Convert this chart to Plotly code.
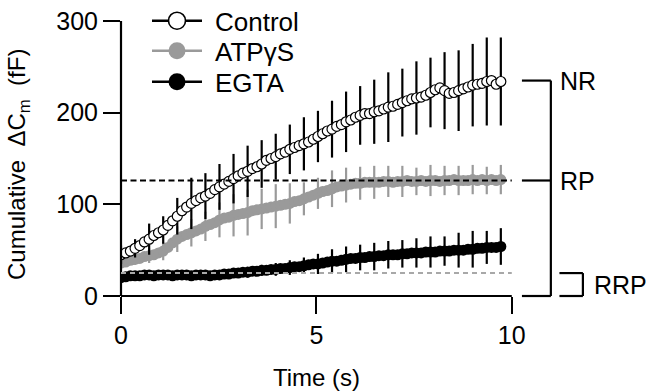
import numpy as np
import plotly.graph_objects as go

# ---------------- data ----------------
# time grid of mean points (s), sampled every 0.12 s
time_s = [round(0.12 * i, 2) for i in range(82)]

control_mean = [45, 47, 49, 52, 55, 59, 62, 66, 69, 72,
                77, 82, 87, 93, 97, 101, 104, 107, 109, 112,
                116, 119, 122, 125, 128, 131, 134, 136, 139, 141,
                144, 148, 150, 152, 155, 157, 160, 162, 164, 166,
                168, 171, 174, 177, 180, 182, 185, 187, 190, 192,
                195, 197, 199, 199, 201, 202, 204, 206, 207, 209,
                211, 213, 215, 216, 217, 219, 222, 225, 227, 224,
                221, 222, 224, 226, 228, 230, 231, 232, 234, 235,
                231, 234]

atp_mean = [36, 37, 39, 40, 41, 43, 44, 45, 47, 49,
            53, 58, 62, 65, 67, 69, 71, 73, 76, 78,
            80, 83, 85, 86, 88, 89, 90, 91, 93, 94,
            95, 96, 97, 98, 99, 100, 101, 103, 104, 106,
            108, 110, 112, 114, 115, 117, 119, 120, 121, 122,
            123, 123, 124, 124, 124, 124, 125, 125, 124, 125,
            125, 126, 125, 125, 126, 125, 126, 126, 125, 126,
            126, 127, 126, 126, 126, 127, 126, 127, 126, 127,
            126, 127]

egta_mean = [20, 21, 22, 22, 22, 23, 23, 22, 23, 23,
             23, 22, 23, 23, 23, 22, 23, 23, 23, 22,
             23, 23, 24, 24, 25, 25, 26, 26, 27, 27,
             28, 28, 29, 29, 30, 30, 31, 32, 32, 33,
             34, 35, 35, 36, 37, 38, 38, 39, 40, 41,
             41, 42, 42, 43, 43, 44, 44, 45, 45, 45,
             46, 46, 47, 47, 47, 48, 48, 48, 49, 49,
             49, 50, 50, 50, 51, 51, 52, 52, 53, 53,
             53, 54]

# error bars shown every 3rd point (every 0.36 s)
err_idx = list(range(0, 82, 3))
control_sd = [10, 10, 17, 15, 20, 28, 25, 25, 27, 28, 26, 25, 27, 29,
              28, 31, 33, 32, 35, 38, 37, 40, 38, 42, 44, 45, 48, 48]
atp_sd = [5, 6, 8, 10, 14, 15, 16, 19, 23, 25, 22, 24, 22, 18,
          17, 20, 19, 18, 18, 17, 17, 15, 17, 16, 16, 16, 15, 16]
egta_sd = [4, 4, 4, 4, 5, 5, 5, 5, 5, 6, 6, 7, 8, 9,
           11, 13, 14, 14, 15, 15, 15, 16, 17, 16, 19, 20, 18, 20]

series_names = ["Control", "ATP\u03b3S", "EGTA"]
rp_level = 126      # fF, RP level (dashed black)
rrp_level = 25      # fF, RRP level (dashed grey)
nr_level = 235      # fF, NR level

x_ticks = [0, 5, 10]
y_ticks = [0, 100, 200, 300]

# ---------------- styling ----------------
FONT = "Liberation Sans, Arial, sans-serif"
BLACK = "#000000"
GREY = "#9a9a9a"
FS = 25
Y_TOP = 322.9   # axis range top (300 sits ~21 px below the top edge)

W, H = 649, 392
ML, MR, MT, MB = 121, 20, 0, 96
PW, PH = W - ML - MR, H - MT - MB


def px_x(px):
    return (px - ML) / PW


def px_y(py):
    return (H - MB - py) / PH


fig = go.Figure()


def add_series(name, mean, sd, color, fill, size, lw_outline):
    t_err = [time_s[i] for i in err_idx]
    m_err = [mean[i] for i in err_idx]
    outline = BLACK if fill == "white" else color
    fig.add_trace(go.Scatter(
        x=t_err, y=m_err, mode="markers",
        marker=dict(size=1, opacity=0),
        error_y=dict(type="data", array=sd, visible=True,
                     color=color, thickness=2.2, width=0),
        showlegend=False, hoverinfo="skip"))
    fig.add_trace(go.Scatter(
        x=time_s, y=mean, mode="lines+markers", name=name,
        line=dict(color=color, width=2),
        marker=dict(symbol="circle", size=size, color=fill,
                    line=dict(color=outline, width=lw_outline)),
        showlegend=False))


add_series(series_names[2], egta_mean, egta_sd, BLACK, BLACK, 11, 0)
add_series(series_names[1], atp_mean, atp_sd, GREY, GREY, 11, 0)
add_series(series_names[0], control_mean, control_sd, BLACK, "white", 10, 1.2)

shapes = []
# axis lines
shapes.append(dict(type="line", xref="x", yref="paper", x0=0, x1=10, y0=0, y1=0,
                   line=dict(color=BLACK, width=2.2)))
shapes.append(dict(type="line", xref="paper", yref="y", x0=0, x1=0, y0=0, y1=300,
                   line=dict(color=BLACK, width=2.2)))
# reference dashed lines
shapes.append(dict(type="line", xref="x", yref="y", x0=0, x1=10,
                   y0=rp_level, y1=rp_level,
                   line=dict(color=BLACK, width=2, dash="6px,3.5px")))
shapes.append(dict(type="line", xref="x", yref="y", x0=0, x1=10,
                   y0=rrp_level, y1=rrp_level,
                   line=dict(color="#a8a8a8", width=2, dash="5px,4px")))
# brackets (NR / RP)
bx0, bx1 = 10.26, 11.0
bline = dict(color=BLACK, width=2.2)
shapes.append(dict(type="line", xref="x", yref="y", x0=bx0, x1=bx1,
                   y0=nr_level, y1=nr_level, line=bline))
shapes.append(dict(type="line", xref="x", yref="y", x0=bx0, x1=bx1,
                   y0=rp_level, y1=rp_level, line=bline))
shapes.append(dict(type="line", xref="x", yref="paper", x0=bx0, x1=bx1,
                   y0=0, y1=0, line=bline))
shapes.append(dict(type="line", xref="x", yref="y", x0=bx1, x1=bx1,
                   y0=0, y1=nr_level, line=bline))
# RRP bracket
rx0, rx1 = 11.22, 11.82
shapes.append(dict(type="line", xref="x", yref="y", x0=rx0, x1=rx1,
                   y0=rrp_level, y1=rrp_level, line=bline))
shapes.append(dict(type="line", xref="x", yref="paper", x0=rx0, x1=rx1,
                   y0=0, y1=0, line=bline))
shapes.append(dict(type="line", xref="x", yref="y", x0=rx1, x1=rx1,
                   y0=0, y1=rrp_level, line=bline))

annotations = [
    dict(text="NR", x=11.18, y=nr_level, xref="x", yref="y",
         xanchor="left", yanchor="middle", showarrow=False,
         font=dict(size=FS, color=BLACK, family=FONT)),
    dict(text="RP", x=11.18, y=rp_level, xref="x", yref="y",
         xanchor="left", yanchor="middle", showarrow=False,
         font=dict(size=FS, color=BLACK, family=FONT)),
    dict(text="RRP", x=12.05, y=12, xref="x", yref="y",
         xanchor="left", yanchor="middle", showarrow=False,
         font=dict(size=FS, color=BLACK, family=FONT)),
    dict(text="Time (s)", x=5, y=px_y(377), xref="x", yref="paper",
         xanchor="center", yanchor="middle", showarrow=False,
         font=dict(size=FS - 1, color=BLACK, family=FONT)),
    dict(text="Cumulative  \u0394C<sub>m</sub>  (fF)", x=px_x(18), y=px_y(165),
         xref="paper", yref="paper", textangle=-90,
         xanchor="center", yanchor="middle", showarrow=False,
         font=dict(size=FS - 1, color=BLACK, family=FONT)),
]

# ---- key (legend) drawn as line + circle + label, rows like the reference ----
key_rows = [20.7, 50.7, 81.7]
key_style = [(BLACK, "white", BLACK), (GREY, GREY, GREY), (BLACK, BLACK, BLACK)]
for name, row, (lc, fc, oc) in zip(series_names, key_rows, key_style):
    yy = px_y(row)
    shapes.append(dict(type="line", xref="paper", yref="paper",
                       x0=px_x(152), x1=px_x(202), y0=yy, y1=yy,
                       line=dict(color=lc, width=2.4)))
    shapes.append(dict(type="circle", xref="paper", yref="paper",
                       xsizemode="pixel", ysizemode="pixel",
                       xanchor=px_x(177), yanchor=yy,
                       x0=-8.5, x1=8.5, y0=-8.5, y1=8.5,
                       fillcolor=fc,
                       line=dict(color=oc, width=1.6 if fc == "white" else 0)))
    annotations.append(dict(text=name, x=px_x(213), y=px_y(row + 1.5),
                            xref="paper", yref="paper",
                            xanchor="left", yanchor="middle", showarrow=False,
                            font=dict(size=FS + 1, color=BLACK, family=FONT)))

fig.update_layout(
    width=W, height=H,
    margin=dict(l=ML, r=MR, t=MT, b=MB, autoexpand=False),
    paper_bgcolor="white", plot_bgcolor="white",
    font=dict(family=FONT, size=FS, color=BLACK),
    shapes=shapes, annotations=annotations,
    showlegend=False,
    xaxis=dict(range=[0, 13], showgrid=False, zeroline=False, showline=False,
               tickmode="array", tickvals=x_ticks, ticktext=[str(v) for v in x_ticks],
               ticks="outside", ticklen=17, tickwidth=2.2, tickcolor=BLACK,
               tickfont=dict(size=FS, family=FONT)),
    yaxis=dict(range=[0, Y_TOP], showgrid=False, zeroline=False, showline=False,
               tickmode="array", tickvals=y_ticks, ticktext=[str(v) for v in y_ticks],
               ticks="outside", ticklen=17, tickwidth=2.2, tickcolor=BLACK,
               tickfont=dict(size=FS, family=FONT)),
)

fig.write_html("out.html",
               config={"displayModeBar": False},
               post_script="document.body.style.margin='0';"
                           "document.body.style.padding='0';")
